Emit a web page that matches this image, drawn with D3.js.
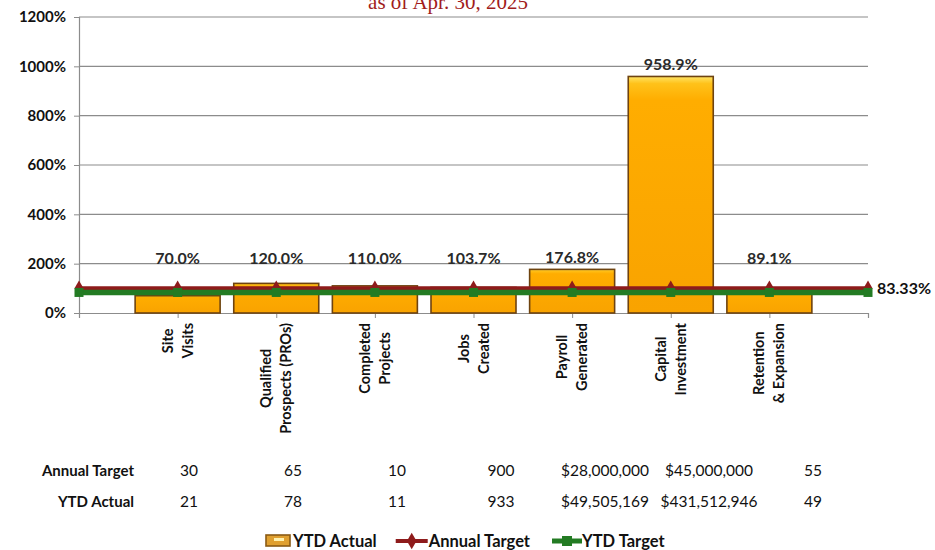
<!DOCTYPE html>
<html>
<head>
<meta charset="utf-8">
<script src="https://cdn.jsdelivr.net/npm/d3@7"></script>
<style>
  body { margin: 0; background: #fff; }
  svg { display: block; font-family: Lato, "Open Sans", sans-serif; }
</style>
</head>
<body>
<div id="chart"></div>
<script>
// Chart data
const categories = [
  ['Site', 'Visits'],
  ['Qualified', 'Prospects (PROs)'],
  ['Completed', 'Projects'],
  ['Jobs', 'Created'],
  ['Payroll', 'Generated'],
  ['Capital', 'Investment'],
  ['Retention', '& Expansion']
];
const ytdActualPct = [70.0, 120.0, 110.0, 103.7, 176.8, 958.9, 89.1];
// line series run one step past the bars on both sides
const annualTargetPct = [100, 100, 100, 100, 100, 100, 100, 100, 100];
const ytdTargetPct = [83.33, 83.33, 83.33, 83.33, 83.33, 83.33, 83.33, 83.33, 83.33];
const yTicks = [0, 200, 400, 600, 800, 1000, 1200];
const annualTargetValues = ['30', '65', '10', '900', '$28,000,000', '$45,000,000', '55'];
const ytdActualValues = ['21', '78', '11', '933', '$49,505,169', '$431,512,946', '49'];

const W = 935, H = 550;
const RED = '#8e1b1b', GREEN = '#237b23';

const svg = d3.select('#chart').append('svg')
  .attr('width', W).attr('height', H);

const defs = svg.append('defs');
const grad = defs.append('linearGradient').attr('id', 'barFill')
  .attr('x1', 0).attr('y1', 0).attr('x2', 0).attr('y2', 1);
grad.append('stop').attr('offset', '0%').attr('stop-color', '#ffe566');
grad.append('stop').attr('offset', '3%').attr('stop-color', '#ffc21a');
grad.append('stop').attr('offset', '10%').attr('stop-color', '#ffad00');
grad.append('stop').attr('offset', '100%').attr('stop-color', '#f9a300');

// Title (cut off at top in the scan)
svg.append('text')
  .attr('x', 448).attr('y', 9)
  .attr('text-anchor', 'middle')
  .attr('font-family', '"Liberation Serif", serif')
  .attr('font-size', 21)
  .attr('fill', '#a11c1c')
  .text('as of Apr. 30, 2025');

// Scales
const x = d3.scaleLinear().domain([0, 8]).range([79, 868]);
const y = d3.scaleLinear().domain([0, 1200]).range([313, 17]);
const barW = 85;

const plot = svg.append('g');

// Gridlines
plot.append('g').selectAll('line')
  .data(yTicks.filter(function(d) { return d > 0; }))
  .enter().append('line')
  .attr('x1', x(0)).attr('x2', x(8))
  .attr('y1', function(d) { return y(d); })
  .attr('y2', function(d) { return y(d); })
  .attr('stroke', '#8c8c8c').attr('stroke-width', 1.2);

// Y axis
const yAxis = plot.append('g')
  .attr('transform', 'translate(' + x(0) + ',0)')
  .call(d3.axisLeft(y).tickValues(yTicks).tickSize(5).tickPadding(8)
    .tickFormat(function(d) { return d + '%'; }));
yAxis.select('.domain').attr('stroke', '#8c8c8c').attr('stroke-width', 1.2);
yAxis.selectAll('.tick line').attr('stroke', '#8c8c8c');
yAxis.selectAll('.tick text')
  .attr('font-family', 'Lato, sans-serif')
  .attr('font-size', 15).attr('font-weight', 'bold').attr('fill', '#111');

// X axis line with ticks at points
const xAxis = plot.append('g')
  .attr('transform', 'translate(0,' + y(0) + ')')
  .call(d3.axisBottom(x).tickValues(d3.range(0, 9)).tickSize(5).tickFormat(''));
xAxis.select('.domain').attr('stroke', '#8c8c8c').attr('stroke-width', 1.2);
xAxis.selectAll('.tick line').attr('stroke', '#8c8c8c');

// Bars
plot.append('g').selectAll('rect')
  .data(ytdActualPct)
  .enter().append('rect')
  .attr('x', function(d, i) { return x(i + 1) - barW / 2; })
  .attr('y', function(d) { return y(d); })
  .attr('width', barW)
  .attr('height', function(d) { return y(0) - y(d); })
  .attr('fill', 'url(#barFill)')
  .attr('stroke', '#6e4310').attr('stroke-width', 1.6);

// Bar labels
plot.append('g').selectAll('text')
  .data(ytdActualPct)
  .enter().append('text')
  .attr('x', function(d, i) { return x(i + 1); })
  .attr('y', function(d) { return Math.min(y(d) - 6, y(100) - 24); })
  .attr('text-anchor', 'middle')
  .attr('font-size', 16).attr('font-weight', 'bold')
  .attr('fill', '#2a2a2a')
  .text(function(d) { return d.toFixed(1) + '%'; });

// Lines
function drawLine(values, color, width) {
  const line = d3.line()
    .x(function(d, i) { return x(i); })
    .y(function(d) { return y(d); });
  plot.append('path')
    .datum(values)
    .attr('d', line)
    .attr('fill', 'none')
    .attr('stroke', color)
    .attr('stroke-width', width);
}

drawLine(annualTargetPct, RED, 4);
plot.append('g').selectAll('path')
  .data(annualTargetPct)
  .enter().append('path')
  .attr('transform', function(d, i) { return 'translate(' + x(i) + ',' + y(d) + ')'; })
  .attr('d', d3.symbol().type(d3.symbolDiamond).size(70))
  .attr('fill', RED);

drawLine(ytdTargetPct, GREEN, 5.5);
plot.append('g').selectAll('rect')
  .data(ytdTargetPct)
  .enter().append('rect')
  .attr('x', function(d, i) { return x(i) - 4.5; })
  .attr('y', function(d) { return y(d) - 4.5; })
  .attr('width', 9).attr('height', 9)
  .attr('fill', GREEN);

// Label at end of YTD target
plot.append('text')
  .attr('x', x(8) + 9)
  .attr('y', y(ytdTargetPct[8]) + 2)
  .attr('font-size', 16).attr('font-weight', 'bold')
  .attr('fill', '#111')
  .text(ytdTargetPct[8].toFixed(2) + '%');

// Category labels, rotated
const catG = svg.append('g');
categories.forEach(function(lines, i) {
  const cx = x(i + 1);
  const texts = lines.map(function(s) {
    return catG.append('text')
      .attr('text-anchor', 'middle')
      .attr('font-size', 14.5).attr('font-weight', 'bold')
      .attr('fill', '#111')
      .text(s);
  });
  const maxLen = d3.max(texts, function(t) { return t.node().getComputedTextLength(); });
  const cy = 323 + maxLen / 2;
  texts.forEach(function(t, j) {
    const bx = cx + (j - (lines.length - 1) / 2) * 20 + 5;
    t.attr('transform', 'translate(' + bx + ',' + cy + ') rotate(-90)');
  });
});

// Table under chart
const tx = d3.scaleLinear().domain([0, 6]).range([189, 813]);
const rows = [
  { label: 'Annual Target', values: annualTargetValues, y: 476 },
  { label: 'YTD Actual', values: ytdActualValues, y: 507 }
];
const table = svg.append('g');
rows.forEach(function(r) {
  table.append('text')
    .attr('x', 134).attr('y', r.y)
    .attr('text-anchor', 'end')
    .attr('font-size', 15).attr('font-weight', 'bold')
    .attr('fill', '#111')
    .text(r.label);
  table.selectAll(null)
    .data(r.values)
    .enter().append('text')
    .attr('x', function(d, i) { return tx(i); })
    .attr('y', r.y)
    .attr('text-anchor', 'middle')
    .attr('font-size', 15.5)
    .attr('fill', '#111')
    .text(function(d) { return d; });
});

// Legend
const legend = svg.append('g').attr('transform', 'translate(0,541)');
let lx = 266;
function legendText(label) {
  const t = legend.append('text')
    .attr('x', lx).attr('y', 6)
    .attr('font-size', 16.5).attr('font-weight', 'bold')
    .attr('fill', '#111')
    .text(label);
  lx += t.node().getComputedTextLength();
}
legend.append('rect')
  .attr('x', lx).attr('y', -6).attr('width', 24).attr('height', 11)
  .attr('fill', '#e0a030').attr('stroke', '#8a5a14').attr('stroke-width', 1.6);
legend.append('rect')
  .attr('x', lx + 8).attr('y', -3).attr('width', 10).attr('height', 3)
  .attr('fill', '#fff2b0');
lx += 27;
legendText('YTD Actual');

lx += 19;
legend.append('line')
  .attr('x1', lx).attr('x2', lx + 32).attr('y1', 0).attr('y2', 0)
  .attr('stroke', RED).attr('stroke-width', 4);
legend.append('path')
  .attr('transform', 'translate(' + (lx + 16) + ',0)')
  .attr('d', d3.symbol().type(d3.symbolDiamond).size(80))
  .attr('fill', RED);
lx += 33;
legendText('Annual Target');

lx += 22;
legend.append('line')
  .attr('x1', lx).attr('x2', lx + 30).attr('y1', 0).attr('y2', 0)
  .attr('stroke', GREEN).attr('stroke-width', 5);
legend.append('rect')
  .attr('x', lx + 10).attr('y', -5).attr('width', 10).attr('height', 10)
  .attr('fill', GREEN);
lx += 30;
legendText('YTD Target');
</script>
</body>
</html>
